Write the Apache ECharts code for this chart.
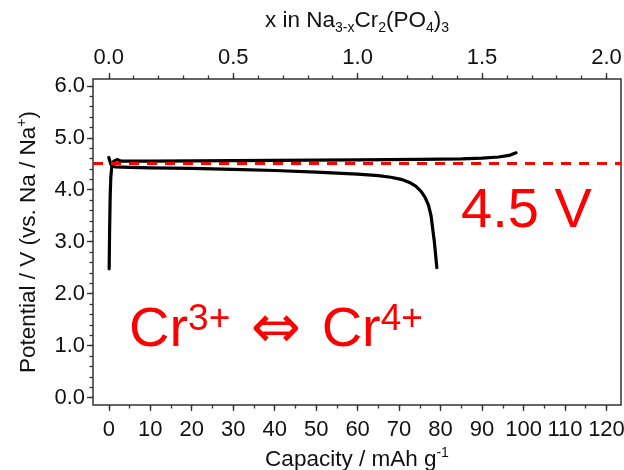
<!DOCTYPE html>
<html><head><meta charset="utf-8">
<script src="https://cdn.jsdelivr.net/npm/echarts@6/dist/echarts.min.js"></script>
<style>html,body{margin:0;padding:0;background:#fff}#c{width:624px;height:470px}</style>
</head><body><div id="c"></div>
<script>
// ---- data ----
const capTicks = [0, 10, 20, 30, 40, 50, 60, 70, 80, 90, 100, 110, 120];
const capMinorTicks = [0, 5, 10, 15, 20, 25, 30, 35, 40, 45, 50, 55, 60, 65, 70, 75, 80, 85, 90, 95, 100, 105, 110, 115, 120];
const xTicks = [0, 0.5, 1.0, 1.5, 2.0];
const xMinorTicks = [0, 0.1, 0.2, 0.3, 0.4, 0.5, 0.6, 0.7, 0.8, 0.9, 1.0, 1.1, 1.2, 1.3, 1.4, 1.5, 1.6, 1.7, 1.8, 1.9, 2.0];
const vTicks = [0, 1, 2, 3, 4, 5, 6];
const vMinorTicks = [0, 0.2, 0.4, 0.6, 0.8, 1, 1.2, 1.4, 1.6, 1.8, 2, 2.2, 2.4, 2.6, 2.8, 3, 3.2, 3.4, 3.6, 3.8, 4, 4.2, 4.4, 4.6, 4.8, 5, 5.2, 5.4, 5.6, 5.8, 6];

const chargeCap = [0.1, 0.2, 0.35, 0.5, 0.7, 1.2, 2.0, 3.0, 10, 20, 40, 60, 75, 85, 90, 94, 96.5, 98.2];
const chargeV   = [2.48, 3.2, 3.9, 4.25, 4.42, 4.55, 4.58, 4.55, 4.55, 4.555, 4.565, 4.575, 4.585, 4.595, 4.61, 4.63, 4.66, 4.71];

const dischargeCap = [0, 0.6, 1.5, 5, 10, 20, 30, 40, 50, 55, 60, 65, 68, 70.5, 72.5, 74, 75.3, 76.3, 77.1, 77.7, 78.1, 78.5, 78.8, 79.1];
const dischargeV   = [4.62, 4.47, 4.44, 4.43, 4.42, 4.41, 4.39, 4.37, 4.34, 4.32, 4.30, 4.27, 4.24, 4.20, 4.14, 4.07, 3.97, 3.85, 3.70, 3.50, 3.25, 3.0, 2.75, 2.5];

const refVoltage = 4.5;
const capPerX = 60; // mAh/g per unit x
const capMin = -3.8, capMax = 123.5;
const vMin = -0.14, vMax = 6.13;

// ---- chart ----
const FONT = 'Liberation Sans, Arial, sans-serif';
const TXT = '#111';
const AX = '#333';
const TICK_FS = 22;
const NAME_FS = 22.5;
const chart = echarts.init(document.getElementById('c'), null, {renderer: 'canvas'});

const zip = (a, b) => a.map((v, i) => [v, b[i]]);
const noLine = {show: false, onZero: false};

const option = {
  animation: false,
  backgroundColor: '#fff',
  textStyle: {fontFamily: FONT},
  grid: {left: 93, right: 3, top: 79, bottom: 65, containLabel: false, outerBoundsMode: 'none',
    show: true, borderColor: AX, borderWidth: 1.5, backgroundColor: 'transparent'},
  xAxis: [
    {
      type: 'value', position: 'bottom', min: capMin, max: capMax,
      axisLine: noLine, splitLine: {show: false},
      axisTick: {show: true, customValues: capTicks, length: 6, lineStyle: {color: AX, width: 1.3}},
      axisLabel: {customValues: capTicks, margin: 14, fontSize: TICK_FS, color: TXT, fontFamily: FONT},
      name: 'Capacity / mAh g{p|-1}', nameLocation: 'middle', nameGap: 40,
      nameTextStyle: {fontSize: NAME_FS, color: TXT, fontFamily: FONT, lineHeight: 28,
        rich: {p: {fontSize: 14, verticalAlign: 'top', lineHeight: 14, color: TXT, fontFamily: FONT}}}
    },
    {
      type: 'value', position: 'bottom', min: capMin, max: capMax,
      axisLine: noLine, splitLine: {show: false}, axisLabel: {show: false},
      axisTick: {show: true, customValues: capMinorTicks, length: 3.5, lineStyle: {color: AX, width: 1.3}}
    },
    {
      type: 'value', position: 'top', min: capMin / capPerX, max: capMax / capPerX,
      axisLine: noLine, splitLine: {show: false},
      axisTick: {show: true, customValues: xTicks, length: 6, lineStyle: {color: AX, width: 1.3}},
      axisLabel: {customValues: xTicks, margin: 10, fontSize: TICK_FS, color: TXT, fontFamily: FONT, formatter: v => v.toFixed(1)},
      name: 'x in Na{s|3-x}Cr{s|2}(PO{s|4}){s|3}', nameLocation: 'middle', nameGap: 44,
      nameTextStyle: {fontSize: NAME_FS, color: TXT, fontFamily: FONT, lineHeight: 28,
        rich: {s: {fontSize: 14, verticalAlign: 'bottom', lineHeight: 14, color: TXT, fontFamily: FONT}}}
    },
    {
      type: 'value', position: 'top', min: capMin / capPerX, max: capMax / capPerX,
      axisLine: noLine, splitLine: {show: false}, axisLabel: {show: false},
      axisTick: {show: true, customValues: xMinorTicks, length: 3.5, lineStyle: {color: AX, width: 1.3}}
    }
  ],
  yAxis: [
    {
      type: 'value', position: 'left', min: vMin, max: vMax,
      axisLine: noLine, splitLine: {show: false},
      axisTick: {show: true, customValues: vTicks, length: 6, lineStyle: {color: AX, width: 1.3}},
      axisLabel: {customValues: vTicks, margin: 8, fontSize: TICK_FS, color: TXT, fontFamily: FONT, formatter: v => v.toFixed(1)},
      name: 'Potential / V (vs. Na / Na{p|+})', nameLocation: 'middle', nameGap: 50,
      nameTextStyle: {fontSize: NAME_FS, color: TXT, fontFamily: FONT, lineHeight: 28,
        rich: {p: {fontSize: 14, verticalAlign: 'top', lineHeight: 14, color: TXT, fontFamily: FONT}}}
    },
    {
      type: 'value', position: 'left', min: vMin, max: vMax,
      axisLine: noLine, splitLine: {show: false}, axisLabel: {show: false},
      axisTick: {show: true, customValues: vMinorTicks, length: 3.5, lineStyle: {color: AX, width: 1.3}}
    }
  ],
  series: [
    {
      type: 'line', xAxisIndex: 0, yAxisIndex: 0, data: zip(dischargeCap, dischargeV),
      showSymbol: false, smooth: false, lineStyle: {color: '#000', width: 3.2, cap: 'round', join: 'round'}, z: 3
    },
    {
      type: 'line', xAxisIndex: 0, yAxisIndex: 0, data: zip(chargeCap, chargeV),
      showSymbol: false, smooth: false, lineStyle: {color: '#000', width: 3.2, cap: 'round', join: 'round'}, z: 3,
      markLine: {
        silent: true, symbol: 'none', label: {show: false},
        lineStyle: {color: '#ff0000', width: 3, type: [10, 8]},
        data: [{yAxis: refVoltage}]
      }
    }
  ],
  graphic: [
    {
      type: 'text', left: 461, top: 184, z: 10,
      style: {text: '4.5 V', fill: '#ff0000', fontSize: 56, fontFamily: FONT}
    },
    {
      type: 'text', left: 129, top: 301, z: 10,
      style: {
        text: '{a|Cr}{b|3+}{a| }{c|⇔}{a| Cr}{b|4+}',
        rich: {
          a: {fontSize: 56, lineHeight: 60, fill: '#ff0000', fontFamily: FONT},
          b: {fontSize: 37, lineHeight: 40, verticalAlign: 'top', fill: '#ff0000', fontFamily: FONT},
          c: {fontSize: 60, lineHeight: 60, fill: '#ff0000', fontFamily: 'DejaVu Sans, sans-serif', padding: [0, 5, 0, 5]}
        }
      }
    }
  ]
};
chart.setOption(option);
</script>
</body></html>
